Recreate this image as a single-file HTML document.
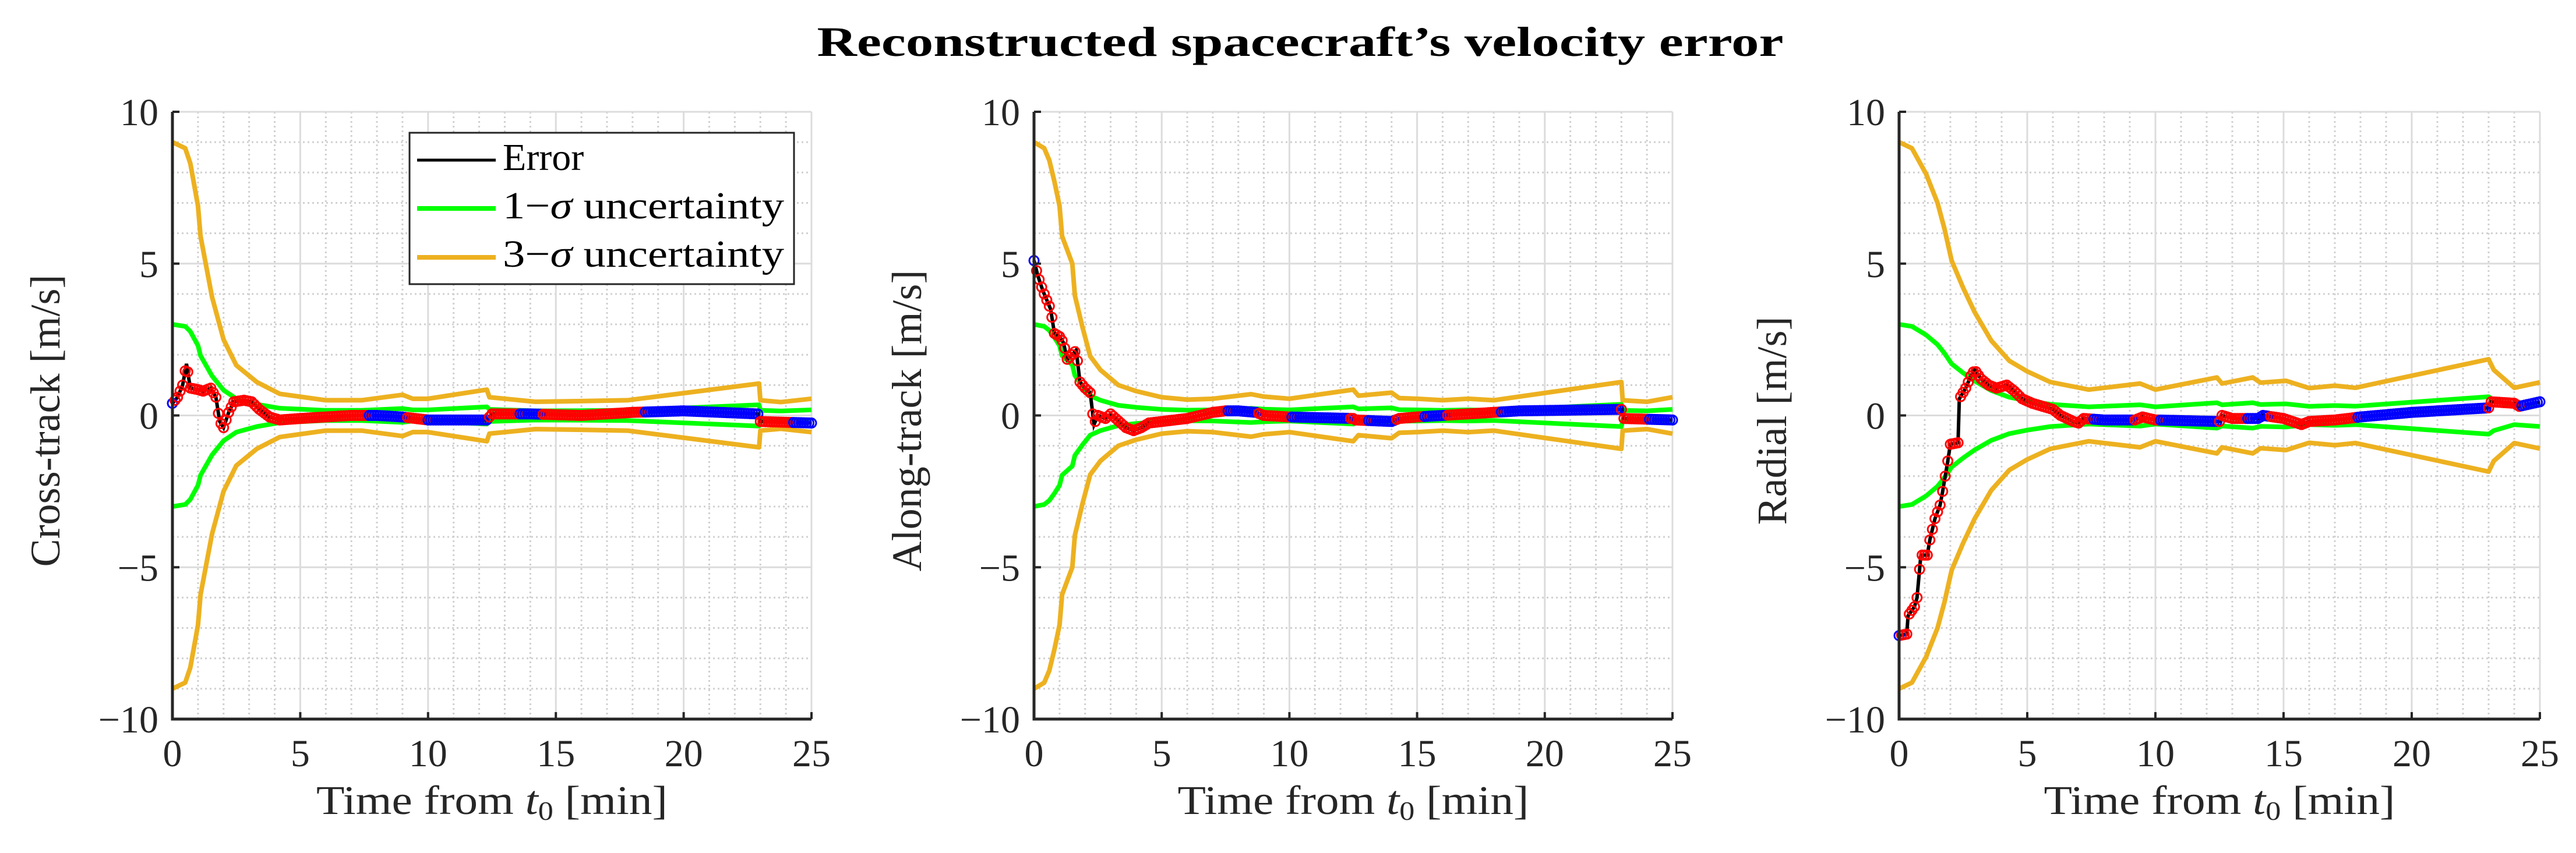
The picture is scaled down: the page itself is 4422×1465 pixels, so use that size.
<!DOCTYPE html>
<html><head><meta charset="utf-8"><style>
html,body{margin:0;padding:0;background:#fff;}
svg{display:block;font-family:"Liberation Serif",serif;}
</style></head><body>
<svg id="chart" width="4422" height="1465" viewBox="0 0 4422 1465" xmlns="http://www.w3.org/2000/svg">
<rect width="4422" height="1465" fill="#fff"/>
<text x="2232" y="96" text-anchor="middle" font-size="72" font-weight="bold" textLength="1659" lengthAdjust="spacingAndGlyphs" fill="#000">Reconstructed spacecraft’s velocity error</text>
</svg>
<script>
const panelLabels = ["Cross-track [m/s]", "Along-track [m/s]", "Radial [m/s]"];
const xTicks = [0, 5, 10, 15, 20, 25];
const yTicks = [-10, -5, 0, 5, 10];
const yTickLabels = ["−10", "−5", "0", "5", "10"];

// 3-sigma envelopes (t [min], value [m/s]); 1-sigma = 3-sigma / 3
const sig1T = [0,0.5,0.7,1.0,1.1,1.55,2.0,2.5,3.3,4.2,6,7.4,9,9.4,10,12.3,12.4,14.2,15.8,17.8,22.95,23.0,23.8,25];
const sig1V = [9,8.8,8.3,6.9,5.9,3.9,2.5,1.65,1.1,0.71,0.5,0.5,0.68,0.55,0.55,0.85,0.6,0.45,0.47,0.5,1.05,0.5,0.44,0.55];
const sig2T = [0,0.4,0.6,0.8,1.0,1.1,1.5,1.6,1.9,2.2,2.6,3.3,4,5,6,7,8.5,9,10,12.5,12.7,14,14.3,15,16,17,18,23,23.05,24,25];
const sig2V = [9,8.8,8.4,7.7,6.9,5.9,5.0,3.95,2.9,1.95,1.5,1.0,0.8,0.6,0.52,0.55,0.7,0.62,0.55,0.85,0.65,0.75,0.57,0.55,0.5,0.55,0.5,1.1,0.5,0.45,0.6];
const sig3T = [0,0.5,1.05,1.5,1.77,2.05,2.5,2.95,3.6,4.3,5.0,5.9,7.4,9.4,10,12.4,12.6,13.8,14.1,15.1,16,17,17.8,23.0,23.2,24,25];
const sig3V = [9,8.8,7.96,7.0,6.15,5.1,4.2,3.4,2.46,1.8,1.45,1.1,0.85,1.05,0.85,1.25,1.05,1.25,1.08,1.14,0.9,0.98,0.91,1.85,1.5,0.91,1.09];

// reconstruction error
const err1T = [0,0.2,0.4,0.55,0.7,1.0,1.2,1.5,1.7,1.85,2.0,2.2,2.4,2.8,3.1,3.4,3.8,4.2,5,6,7,8,9,10,12.3,12.5,14,16,18,20,22.9,23.0,25];
const err1V = [0.4,0.6,1.0,1.7,0.9,0.85,0.8,0.9,0.6,-0.2,-0.4,0.1,0.45,0.5,0.45,0.2,-0.05,-0.15,-0.1,-0.05,0.0,0.0,-0.05,-0.15,-0.15,0.05,0.05,0.0,0.1,0.15,0.05,-0.2,-0.25];
const err2T = [0,0.15,0.35,0.5,0.65,0.8,1.0,1.15,1.3,1.5,1.65,1.8,2.0,2.2,2.35,2.5,2.8,3.0,3.2,3.6,3.9,4.2,4.5,5,6,7,7.5,8,8.7,9,10,12.5,12.6,14,14.3,15,16,17,18,19,23,23.1,25];
const err2V = [5.1,4.6,4.1,3.8,3.5,2.7,2.6,2.4,1.85,2.0,2.15,1.1,0.9,0.75,-0.3,0.0,-0.1,0.05,-0.1,-0.4,-0.5,-0.4,-0.25,-0.2,-0.1,0.1,0.15,0.15,0.1,0.0,-0.05,-0.1,-0.15,-0.2,-0.1,-0.05,0.0,0.05,0.1,0.15,0.2,-0.1,-0.15];
const err3T = [0,0.3,0.35,0.6,0.7,0.85,1.1,1.2,1.4,1.6,1.7,1.9,2.0,2.3,2.35,2.6,2.8,2.95,3.2,3.5,3.8,4.2,4.5,4.8,5.2,5.6,6,6.3,6.8,7.0,7.2,8,9.2,9.5,10,12.5,12.6,13,14,14.2,15,15.7,16,17,18,20,23,23.1,24,24.2,25];
const err3V = [-7.25,-7.2,-6.6,-6.3,-6.0,-4.6,-4.6,-4.1,-3.4,-2.95,-2.5,-1.5,-0.95,-0.9,0.55,0.9,1.3,1.5,1.2,1.0,0.9,1.0,0.8,0.55,0.4,0.3,0.2,0.0,-0.2,-0.25,-0.1,-0.15,-0.15,-0.05,-0.15,-0.2,0.0,-0.1,-0.1,0.0,-0.1,-0.3,-0.2,-0.15,-0.05,0.1,0.25,0.45,0.4,0.3,0.45];

// intervals where measurement markers are red (others blue)
const red1 = [[0.1,7.6],[9.2,9.9],[12.4,13.5],[14.5,18.4],[23.0,24.2]];
const red2 = [[0.1,7.5],[8.8,10.0],[12.4,13.0],[14.2,15.2],[16.2,18.2],[23.0,24.0]];
const red3 = [[0.1,7.5],[9.2,10.1],[12.5,13.5],[14.5,17.8],[23.0,24.2]];

const panels = [
  {x0:296, x1:1393, sT:sig1T, sV:sig1V, eT:err1T, eV:err1V, red:red1, label:panelLabels[0], key:"cross-track"},
  {x0:1775, x1:2871, sT:sig2T, sV:sig2V, eT:err2T, eV:err2V, red:red2, label:panelLabels[1], key:"along-track"},
  {x0:3260, x1:4360, sT:sig3T, sV:sig3V, eT:err3T, eV:err3V, red:red3, label:panelLabels[2], key:"radial"}
];
const Y0 = 192, Y1 = 1235;
const NS = "http://www.w3.org/2000/svg";
const svg = document.getElementById('chart');
function mk(tag, attrs, parent){const e=document.createElementNS(NS,tag);for(const k in attrs)e.setAttribute(k,attrs[k]);(parent||svg).appendChild(e);return e;}
function interp(T,V,t){if(t<=T[0])return V[0];for(let i=1;i<T.length;i++){if(t<=T[i]){const f=(t-T[i-1])/(T[i]-T[i-1]);return V[i-1]+f*(V[i]-V[i-1]);}}return V[V.length-1];}

panels.forEach((p)=>{
  const sx = t => p.x0 + (t/25)*(p.x1-p.x0);
  const sy = v => Y0 + (10-v)/20*(Y1-Y0);
  const g = mk('g',{});
  
  
  for(let i=0;i<=25;i++){ if(i%5===0) continue;
    const l=mk('line',{x1:sx(i),x2:sx(i),y1:Y0,y2:Y1,stroke:'#d0d0d0','stroke-width':3,'stroke-dasharray':'3 5'},g);
      }
  for(let v=-10;v<=10;v++){ if(v%5===0) continue;
    const l=mk('line',{x1:p.x0,x2:p.x1,y1:sy(v),y2:sy(v),stroke:'#d0d0d0','stroke-width':3,'stroke-dasharray':'3 5'},g);
      }
  xTicks.forEach(t=>{ const l=mk('line',{x1:sx(t),x2:sx(t),y1:Y0,y2:Y1,stroke:'#dcdcdc','stroke-width':3},g);
      });
  yTicks.forEach(v=>{ const l=mk('line',{x1:p.x0,x2:p.x1,y1:sy(v),y2:sy(v),stroke:'#dcdcdc','stroke-width':3},g);
      });
  const line = (vals, color, name, w) => {
    const pts = p.sT.map((t,i)=>sx(t)+','+sy(vals[i])).join(' ');
    const pl = mk('polyline',{points:pts,fill:'none',stroke:color,'stroke-width':w,'stroke-linejoin':'round'},g);
     
  };
  line(p.sV, '#edb120', '3-sigma-upper', 8);
  line(p.sV.map(v=>-v), '#edb120', '3-sigma-lower', 8);
  line(p.sV.map(v=>v/3), '#00ff00', '1-sigma-upper', 8);
  line(p.sV.map(v=>-v/3), '#00ff00', '1-sigma-lower', 8);
  const ept = p.eT.map((t,i)=>sx(t)+','+sy(p.eV[i])).join(' ');
  const el = mk('polyline',{points:ept,fill:'none',stroke:'#000','stroke-width':6},g);
   
  for(let k=0;k<=250;k++){
    const t=k/10;
    const isRed = p.red.some(r=>t>=r[0]&&t<=r[1]);
    const c = mk('circle',{cx:sx(t),cy:sy(interp(p.eT,p.eV,t)),r:8,fill:'none',stroke:isRed?'#ff0000':'#0000ff','stroke-width':3},g);
    
    
  }
  const ax = mk('path',{d:`M${p.x0},${Y0} L${p.x0},${Y1} L${p.x1},${Y1}`,fill:'none',stroke:'#262626','stroke-width':5},g);
   
  xTicks.forEach(t=>{
    const tk=mk('line',{x1:sx(t),x2:sx(t),y1:Y1,y2:Y1-12,stroke:'#262626','stroke-width':4},g);
     
    const tx=mk('text',{x:sx(t),y:1316,'text-anchor':'middle','font-size':66,fill:'#262626'},g);
    tx.textContent=String(t);
     
  });
  yTicks.forEach((v,i)=>{
    const tk=mk('line',{x1:p.x0,x2:p.x0+12,y1:sy(v),y2:sy(v),stroke:'#262626','stroke-width':4},g);
     
    const tx=mk('text',{x:p.x0-24,y:sy(v)+23,'text-anchor':'end','font-size':66,fill:'#262626'},g);
    tx.textContent=yTickLabels[i];
     
  });
  const xl=mk('text',{x:(p.x0+p.x1)/2,y:1398,'text-anchor':'middle','font-size':70,fill:'#262626',textLength:603,lengthAdjust:'spacingAndGlyphs'},g);
  xl.innerHTML='Time from <tspan font-style="italic">t</tspan><tspan font-size="46" dy="10">0</tspan><tspan dy="-10"> [min]</tspan>';
   
  const yl=mk('text',{x:0,y:0,'text-anchor':'middle','font-size':72,fill:'#262626',transform:`translate(${p.x0-194},${(Y0+Y1)/2+9}) rotate(-90)`},g);
  yl.textContent=p.label;
   
});

const lg = mk('g',{});


mk('rect',{x:703,y:228,width:660,height:260,fill:'#fff',stroke:'#262626','stroke-width':3},lg);
const legendItems = [["Error","#000",5,275,292],["1","#00ff00",8,358,375],["3","#edb120",8,442,458]];
legendItems.forEach((it,i)=>{
  const ln=mk('line',{x1:716,x2:851,y1:it[3],y2:it[3],stroke:it[1],'stroke-width':it[2]},lg);
   
  const tx=mk('text',{x:863,y:it[4],'font-size':66,fill:'#000'},lg);
  if(i===0){ tx.textContent='Error'; }
  else { tx.innerHTML=it[0]+'−<tspan font-style="italic">σ</tspan> uncertainty'; tx.setAttribute('textLength','483'); tx.setAttribute('lengthAdjust','spacingAndGlyphs'); }
   
});
</script>
</body></html>
